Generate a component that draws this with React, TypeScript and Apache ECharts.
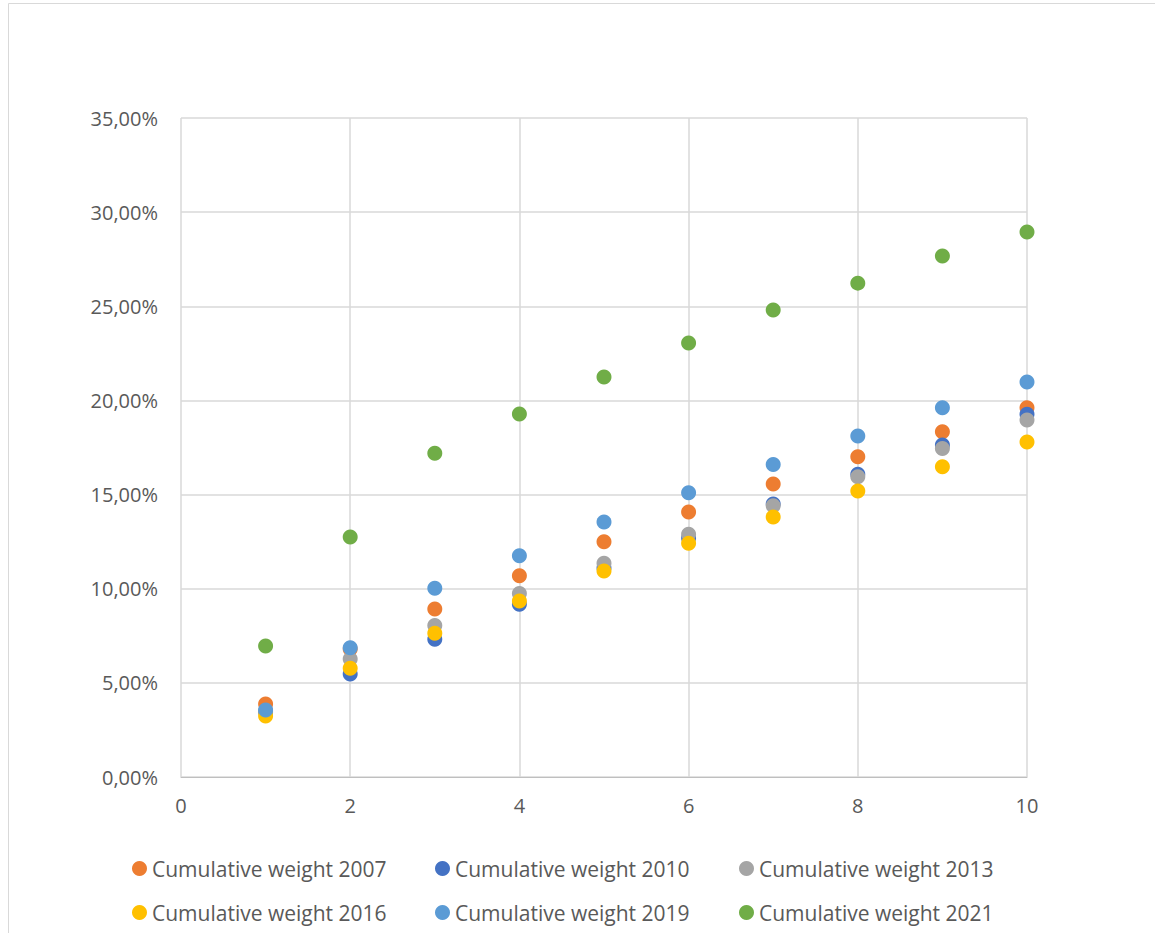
import React, { useEffect, useRef } from "react";
import * as echarts from "echarts";

const xValues = [1, 2, 3, 4, 5, 6, 7, 8, 9, 10];
const seriesNames = [
  "Cumulative weight 2007",
  "Cumulative weight 2010",
  "Cumulative weight 2013",
  "Cumulative weight 2016",
  "Cumulative weight 2019",
  "Cumulative weight 2021",
];
const colors = ["#ED7D31", "#4472C4", "#A5A5A5", "#FFC000", "#5B9BD5", "#70AD47"];

const w2007 = [3.88, 6.8, 8.92, 10.69, 12.5, 14.07, 15.56, 17.01, 18.34, 19.61];
const w2010 = [3.45, 5.47, 7.31, 9.17, 11.1, 12.7, 14.5, 16.08, 17.63, 19.26];
const w2013 = [3.5, 6.27, 8.04, 9.75, 11.35, 12.89, 14.41, 15.95, 17.45, 18.96];
const w2016 = [3.24, 5.77, 7.63, 9.35, 10.94, 12.41, 13.81, 15.19, 16.48, 17.79];
const w2019 = [3.56, 6.87, 10.02, 11.75, 13.54, 15.1, 16.6, 18.11, 19.61, 20.98];
const w2021 = [6.96, 12.75, 17.2, 19.28, 21.24, 23.05, 24.8, 26.23, 27.67, 28.94];

const allSeries = [w2007, w2010, w2013, w2016, w2019, w2021];

const FONT = "Open Sans";
const legendLefts = [132, 435, 739];
const legendTops = [858, 902];

export default function App() {
  const ref = useRef<HTMLDivElement>(null);
  useEffect(() => {
    if (!ref.current) return;
    const chart = echarts.init(ref.current, undefined, { renderer: "svg" });
    const legends = seriesNames.map((name, i) => ({
      orient: "horizontal" as const,
      icon: "circle",
      itemWidth: 15,
      itemHeight: 15,
      left: legendLefts[i % 3],
      top: legendTops[Math.floor(i / 3)],
      padding: 0,
      textStyle: { fontFamily: FONT, fontSize: 21, color: "#595959", padding: [0, 0, 0, 0] },
      selectedMode: false,
      data: [name],
    }));
    chart.setOption({
      animation: false,
      backgroundColor: "#ffffff",
      graphic: [
        { type: "line", shape: { x1: 8.5, y1: 3.5, x2: 1155, y2: 3.5 }, style: { stroke: "#d9d9d9", lineWidth: 1 } },
        { type: "line", shape: { x1: 8.5, y1: 3.5, x2: 8.5, y2: 933 }, style: { stroke: "#d9d9d9", lineWidth: 1 } },
      ],
      grid: { left: 181, right: 128, top: 118, bottom: 156, containLabel: false },
      xAxis: {
        type: "value",
        min: 0,
        max: 10,
        interval: 2,
        axisLine: { show: true, lineStyle: { color: "#bfbfbf" } },
        axisTick: { show: false },
        splitLine: { show: true, lineStyle: { color: "#d9d9d9", width: 1.5 } },
        axisLabel: { fontFamily: FONT, fontSize: 20, color: "#595959", margin: 18 },
      },
      yAxis: {
        type: "value",
        min: 0,
        max: 35,
        interval: 5,
        axisLine: { show: false },
        axisTick: { show: false },
        splitLine: { show: true, lineStyle: { color: "#d9d9d9", width: 1.5 } },
        axisLabel: {
          fontFamily: FONT,
          fontSize: 20,
          color: "#595959",
          margin: 23,
          formatter: (v: number) => v.toFixed(2).replace(".", ",") + "%",
        },
      },
      legend: legends,
      series: seriesNames.map((name, i) => ({
        name,
        type: "scatter",
        symbol: "circle",
        symbolSize: 15,
        itemStyle: { color: colors[i], opacity: 1 },
        data: xValues.map((x, j) => [x, allSeries[i][j]]),
      })),
    });
    return () => chart.dispose();
  }, []);
  return (
    <div
      ref={ref}
      style={{ position: "absolute", left: 0, top: 0, width: 1155, height: 933 }}
    />
  );
}
